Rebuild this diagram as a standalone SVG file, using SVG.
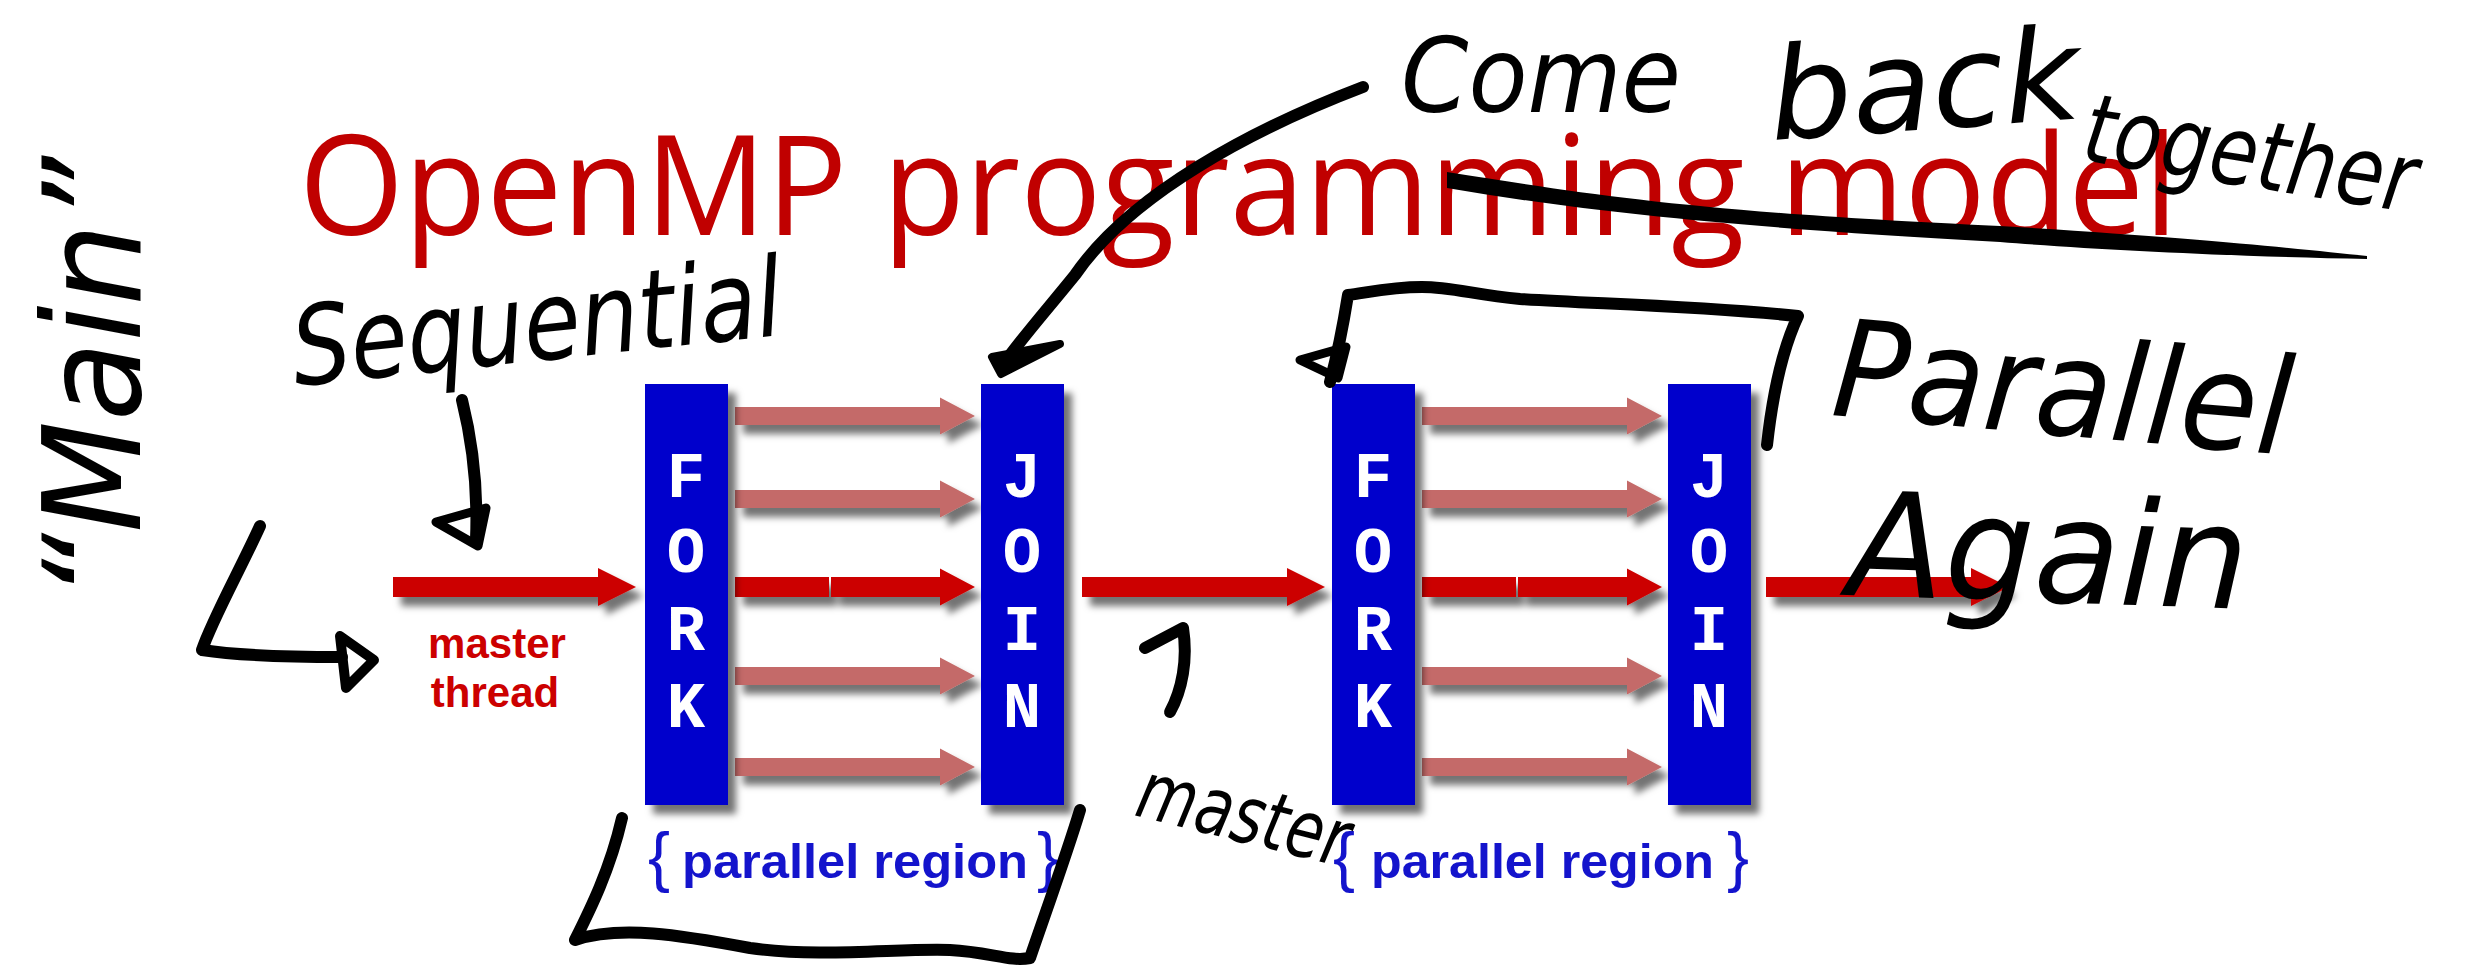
<svg xmlns="http://www.w3.org/2000/svg" width="2471" height="972" viewBox="0 0 2471 972">
  <defs>
    <filter id="shadow" x="-20%" y="-20%" width="150%" height="160%">
      <feDropShadow dx="8" dy="9" stdDeviation="3.5" flood-color="#000" flood-opacity="0.55"/>
    </filter>
    <!-- thin worker-thread arrow (pink) -->
    <path id="thr" d="M0,-9 H205 V-18.5 L240,0 L205,18.5 V9 H0 Z"/>
    <!-- master-thread arrow (red) -->
    <path id="mst" d="M0,-10 H205 V-19 L243,0 L205,19 V10 H0 Z"/>
    <!-- master thread inside a parallel region, drawn in two pieces -->
    <path id="mst2" d="M0,-10 H94 V10 H0 Z M96,-10 H205 V-18.5 L240,0 L205,18.5 V10 H96 Z"/>
  </defs>
  <style>
    .bar { fill: #0000CC; filter: url(#shadow); }
    .bar-txt { font-family: "Liberation Mono", "DejaVu Sans Mono", monospace; font-weight: bold; font-size: 64px; fill: #ffffff; text-anchor: middle; }
    .pink { fill: #C46B69; filter: url(#shadow); }
    .red { fill: #CC0000; filter: url(#shadow); }
    .title { font-family: "Open Sans", "Noto Sans", sans-serif; font-size: 140px; fill: #C00000; }
    .mt { font-family: "Liberation Sans", Arial, sans-serif; font-weight: bold; font-size: 42px; fill: #CC0000; text-anchor: middle; }
    .pr { font-family: "Liberation Sans", Arial, sans-serif; font-weight: bold; font-size: 48px; fill: #1414CC; }
    .brace { font-family: "Liberation Sans", Arial, sans-serif; font-size: 66px; fill: #1414CC; }
    .ink { fill: none; stroke: #000; stroke-width: 12; stroke-linecap: round; stroke-linejoin: round; }
    .inkfill { fill: #000; stroke: #000; stroke-width: 8; stroke-linejoin: round; }
    .hand { font-family: "DejaVu Sans", "Liberation Sans", sans-serif; font-style: italic; font-weight: normal; fill: #000; }
  </style>

  <rect width="2471" height="972" fill="#ffffff"/>

  <!-- slide title -->
  <g id="title">
    <text class="title" x="299" y="235" textLength="1879" lengthAdjust="spacingAndGlyphs">OpenMP programming model</text>
  </g>

  <!-- thread arrows -->
  <g id="connectors">
    <use href="#mst" class="red" x="393" y="587"/>
    <use href="#thr" class="pink" x="735" y="416"/>
    <use href="#thr" class="pink" x="735" y="499"/>
    <use href="#mst2" class="red" x="735" y="587"/>
    <use href="#thr" class="pink" x="735" y="676"/>
    <use href="#thr" class="pink" x="735" y="767"/>
    <use href="#mst" class="red" x="1082" y="587"/>
    <use href="#thr" class="pink" x="1422" y="416"/>
    <use href="#thr" class="pink" x="1422" y="499"/>
    <use href="#mst2" class="red" x="1422" y="587"/>
    <use href="#thr" class="pink" x="1422" y="676"/>
    <use href="#thr" class="pink" x="1422" y="767"/>
    <use href="#mst" class="red" x="1766" y="587"/>
  </g>

  <g id="master-thread-label">
    <text class="mt" x="497" y="658">master</text>
    <text class="mt" x="495" y="707">thread</text>
  </g>

  <g id="fork1">
    <rect class="bar" x="645" y="384" width="83" height="421"/>
    <text class="bar-txt" x="686" y="497">F</text>
    <text class="bar-txt" x="686" y="572">O</text>
    <text class="bar-txt" x="686" y="650">R</text>
    <text class="bar-txt" x="686" y="727">K</text>
  </g>
  <g id="join1">
    <rect class="bar" x="981" y="384" width="83" height="421"/>
    <text class="bar-txt" x="1022" y="497">J</text>
    <text class="bar-txt" x="1022" y="572">O</text>
    <text class="bar-txt" x="1022" y="650">I</text>
    <text class="bar-txt" x="1022" y="727">N</text>
  </g>
  <g id="fork2">
    <rect class="bar" x="1332" y="384" width="83" height="421"/>
    <text class="bar-txt" x="1373" y="497">F</text>
    <text class="bar-txt" x="1373" y="572">O</text>
    <text class="bar-txt" x="1373" y="650">R</text>
    <text class="bar-txt" x="1373" y="727">K</text>
  </g>
  <g id="join2">
    <rect class="bar" x="1668" y="384" width="83" height="421"/>
    <text class="bar-txt" x="1709" y="497">J</text>
    <text class="bar-txt" x="1709" y="572">O</text>
    <text class="bar-txt" x="1709" y="650">I</text>
    <text class="bar-txt" x="1709" y="727">N</text>
  </g>

  <g id="region1-label">
    <text class="brace" x="648" y="879">{</text>
    <text class="pr" x="682" y="878" textLength="346" lengthAdjust="spacingAndGlyphs">parallel region</text>
    <text class="brace" x="1037" y="879">}</text>
  </g>
  <g id="region2-label">
    <text class="brace" x="1333" y="879">{</text>
    <text class="pr" x="1371" y="878" textLength="343" lengthAdjust="spacingAndGlyphs">parallel region</text>
    <text class="brace" x="1727" y="879">}</text>
  </g>

  <!-- pen annotations -->
  <g id="ink">
    <!-- strike through the title -->
    <path d="M1447,172 C1600,196 1700,212 2000,226 C2200,238 2300,249 2367,256 L2367,259 C2250,257 2100,250 2000,242 C1750,228 1600,214 1447,188 Z" fill="#000"/>
    <!-- arrow from "Come" down to the first join -->
    <path class="ink" d="M1363,87 C1250,130 1130,195 1075,275 C1045,312 1022,338 1005,362"/>
    <path class="inkfill" d="M992,357 L1060,344 L1001,374 Z"/>
    <!-- loop from second join back to second fork -->
    <path class="ink" d="M1767,445 C1772,400 1782,350 1798,316 C1700,306 1600,304 1520,299 C1475,295 1452,287 1422,287 C1392,287 1370,292 1348,295 C1344,320 1340,345 1330,382"/>
    <path class="ink" style="stroke-width:9" d="M1300,360 L1346,347 L1338,378 Z"/>
    <!-- "Main" elbow arrow -->
    <path class="ink" d="M260,526 C240,570 212,620 202,650 C240,656 300,657 342,657"/>
    <path class="ink" style="stroke-width:10" d="M340,636 L374,660 L346,688 Z"/>
    <!-- "Sequential" arrow -->
    <path class="ink" d="M462,400 C472,440 478,490 476,540"/>
    <path class="ink" style="stroke-width:9" d="M436,522 L486,508 L478,546 Z"/>
    <!-- hook from "master" up to the master arrow -->
    <path class="ink" d="M1145,648 L1183,628 C1188,660 1182,690 1170,712"/>
    <!-- bracket round the first parallel region -->
    <path class="ink" d="M622,818 C610,870 590,910 575,940 C620,925 680,935 750,948 C820,958 900,948 950,950 C990,952 1010,962 1030,958 C1050,900 1068,850 1080,810"/>
  </g>

  <g id="handwriting">
    <text class="hand" font-size="135" transform="translate(140,600) rotate(-90)" textLength="444" lengthAdjust="spacingAndGlyphs">“Main”</text>
    <text class="hand" font-size="110" transform="translate(296,386) rotate(-6)" textLength="492" lengthAdjust="spacingAndGlyphs">Sequential</text>
    <text class="hand" font-size="104" x="1401" y="112" textLength="280" lengthAdjust="spacingAndGlyphs">Come</text>
    <text class="hand" font-size="128" transform="translate(1772,140) rotate(-4)" textLength="311" lengthAdjust="spacingAndGlyphs">back</text>
    <text class="hand" font-size="96" transform="translate(2080,160) rotate(9)" textLength="335" lengthAdjust="spacingAndGlyphs">together</text>
    <text class="hand" font-size="135" transform="translate(1830,415) rotate(5)" textLength="460" lengthAdjust="spacingAndGlyphs">Parallel</text>
    <text class="hand" font-size="145" transform="translate(1847,595) rotate(2)" textLength="400" lengthAdjust="spacingAndGlyphs">Again</text>
    <text class="hand" font-size="80" transform="translate(1133,815) rotate(14)" textLength="215" lengthAdjust="spacingAndGlyphs">master</text>
  </g>
</svg>
